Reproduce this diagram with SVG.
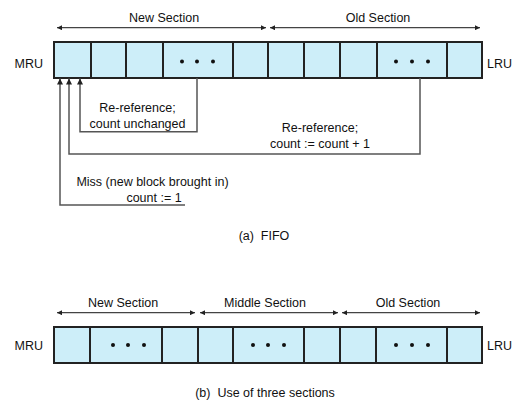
<svg xmlns="http://www.w3.org/2000/svg" width="514" height="403" viewBox="0 0 514 403">
<defs>
<style>
text{font-family:"Liberation Sans",Arial,sans-serif;font-size:12.5px;fill:#111;}
.m{text-anchor:middle;}
.cell{fill:#cdeef9;stroke:#222;stroke-width:2;}
.sec{stroke:#444;stroke-width:1.2;fill:none;marker-start:url(#ah);marker-end:url(#ah);}
.con{stroke:#555;stroke-width:1.5;fill:none;}
.up{marker-end:url(#ah2);}
.dot{fill:#111;}
</style>
<marker id="ah" viewBox="0 0 10 10" refX="10" refY="5" markerWidth="7" markerHeight="5" orient="auto-start-reverse" markerUnits="userSpaceOnUse"><path d="M0,0 L10,5 L0,10 z" fill="#222"/></marker>
<marker id="ah2" viewBox="0 0 10 10" refX="10" refY="5" markerWidth="8" markerHeight="6" orient="auto" markerUnits="userSpaceOnUse"><path d="M0,0 L10,5 L0,10 z" fill="#222"/></marker>
</defs>

<g id="fifo-row">
<rect class="cell" x="54" y="42" width="37" height="36"/>
<rect class="cell" x="91" y="42" width="35" height="36"/>
<rect class="cell" x="126" y="42" width="37" height="36"/>
<rect class="cell" x="163" y="42" width="70" height="36"/>
<rect class="cell" x="233" y="42" width="35" height="36"/>
<rect class="cell" x="268" y="42" width="36" height="36"/>
<rect class="cell" x="304" y="42" width="36" height="36"/>
<rect class="cell" x="340" y="42" width="37" height="36"/>
<rect class="cell" x="377" y="42" width="70" height="36"/>
<rect class="cell" x="447" y="42" width="35" height="36"/>
<circle class="dot" cx="182" cy="61.5" r="2"/><circle class="dot" cx="197" cy="61.5" r="2"/><circle class="dot" cx="213" cy="61.5" r="2"/>
<circle class="dot" cx="396" cy="61.5" r="2"/><circle class="dot" cx="412" cy="61.5" r="2"/><circle class="dot" cx="428" cy="61.5" r="2"/>
<text x="43" y="68" text-anchor="end">MRU</text>
<text x="487" y="68">LRU</text>
</g>

<g id="fifo-sections">
<line class="sec" x1="57" y1="27.7" x2="266" y2="27.7"/>
<line class="sec" x1="270" y1="27.7" x2="480" y2="27.7"/>
<text class="m" x="164" y="21.5">New Section</text>
<text class="m" x="378" y="21.5">Old Section</text>
</g>

<g id="connectors">
<path class="con up" d="M197,78 L197,131.7 L80,131.7 L80,78.5"/>
<path class="con up" d="M420,78 L420,154 L69,154 L69,78.5"/>
<path class="con up" d="M185,205 L60,205 L60,78.5"/>
</g>

<g id="label-unchanged">
<text class="m" x="137.5" y="112">Re-reference;</text>
<text class="m" x="137.5" y="127.5">count unchanged</text>
</g>
<g id="label-plus1">
<text class="m" x="320" y="131.5">Re-reference;</text>
<text class="m" x="320" y="147.5">count := count + 1</text>
</g>
<g id="label-miss">
<text class="m" x="152.5" y="186">Miss (new block brought in)</text>
<text class="m" x="154" y="201.5">count := 1</text>
</g>

<text id="caption-a" class="m" x="264" y="240" xml:space="preserve" style="white-space:pre">(a)  FIFO</text>

<g id="three-row">
<rect class="cell" x="54" y="327" width="36" height="36"/>
<rect class="cell" x="90" y="327" width="72" height="36"/>
<rect class="cell" x="162" y="327" width="36" height="36"/>
<rect class="cell" x="198" y="327" width="35" height="36"/>
<rect class="cell" x="233" y="327" width="71" height="36"/>
<rect class="cell" x="304" y="327" width="36" height="36"/>
<rect class="cell" x="340" y="327" width="36" height="36"/>
<rect class="cell" x="376" y="327" width="71" height="36"/>
<rect class="cell" x="447" y="327" width="35" height="36"/>
<circle class="dot" cx="113" cy="345" r="2"/><circle class="dot" cx="128" cy="345" r="2"/><circle class="dot" cx="144" cy="345" r="2"/>
<circle class="dot" cx="253" cy="345" r="2"/><circle class="dot" cx="268" cy="345" r="2"/><circle class="dot" cx="284" cy="345" r="2"/>
<circle class="dot" cx="396" cy="345" r="2"/><circle class="dot" cx="412" cy="345" r="2"/><circle class="dot" cx="428" cy="345" r="2"/>
<text x="43" y="349.5" text-anchor="end">MRU</text>
<text x="487" y="349.5">LRU</text>
</g>

<g id="three-sections">
<line class="sec" x1="57" y1="312.7" x2="195" y2="312.7"/>
<line class="sec" x1="200" y1="312.7" x2="338" y2="312.7"/>
<line class="sec" x1="342" y1="312.7" x2="480" y2="312.7"/>
<text class="m" x="123" y="306.5">New Section</text>
<text class="m" x="265" y="306.5">Middle Section</text>
<text class="m" x="408" y="306.5">Old Section</text>
</g>

<text id="caption-b" class="m" x="265" y="397" xml:space="preserve" style="white-space:pre">(b)  Use of three sections</text>
</svg>
